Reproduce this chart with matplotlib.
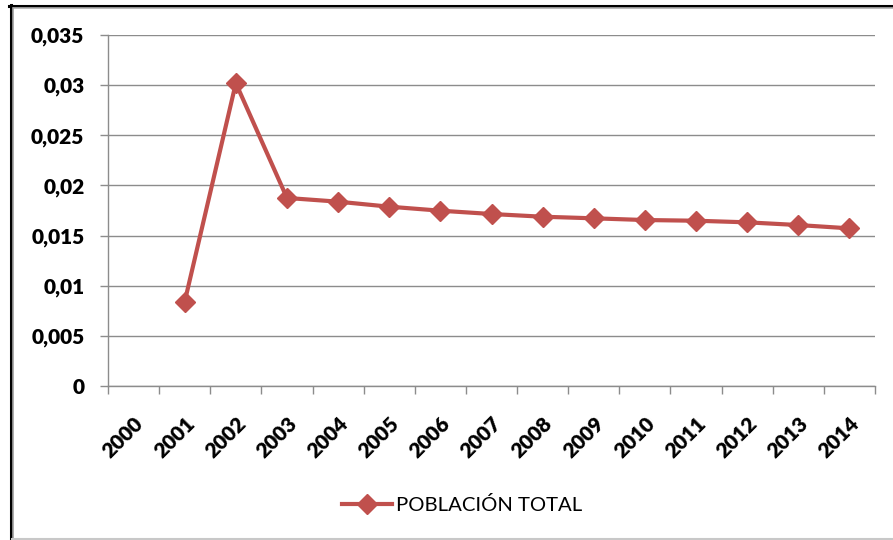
import numpy as np
import matplotlib
matplotlib.use("Agg")
import matplotlib.pyplot as plt
from matplotlib.lines import Line2D

years = ["2000", "2001", "2002", "2003", "2004", "2005", "2006", "2007",
         "2008", "2009", "2010", "2011", "2012", "2013", "2014"]
poblacion_total = [np.nan, 0.0084, 0.0302, 0.01875, 0.01838, 0.01788, 0.01748,
                   0.01715, 0.01688, 0.01672, 0.01655, 0.01648, 0.01632,
                   0.01605, 0.01572]
y_ticks = [0, 0.005, 0.01, 0.015, 0.02, 0.025, 0.03, 0.035]
y_labels = ["0", "0,005", "0,01", "0,015", "0,02", "0,025", "0,03", "0,035"]
series_name = "POBLACIÓN TOTAL"

W, H = 893, 540
red = "#C0504D"
grid = "#8C8C8C"

plt.rcParams["font.family"] = ["Lato", "DejaVu Sans"]

fig = plt.figure(figsize=(W / 100, H / 100), dpi=100)
fig.patch.set_facecolor("white")
ax = fig.add_axes([108 / W, 1 - 386 / H, (875 - 108) / W, (386 - 35) / H])

x = np.arange(len(years))
line, = ax.plot(x, poblacion_total, color=red, lw=3, marker="D", ms=10,
                mec=red, mfc=red, label=series_name, zorder=3)

ax.set_xlim(-0.5, len(years) - 0.5)
ax.set_ylim(0, 0.035)
ax.set_yticks(y_ticks)
ax.set_yticklabels(y_labels, fontsize=15, fontweight="heavy")
ax.set_xticks(x)
ax.set_xticklabels(years, fontsize=15, fontweight="heavy", rotation=45,
                   ha="right", va="top", rotation_mode="anchor")
ax.set_xticks(np.arange(-0.5, len(years)), minor=True)
ax.tick_params(axis="x", which="major", length=0, pad=20)
ax.tick_params(axis="x", which="minor", length=6, width=1, color=grid)
ax.tick_params(axis="y", length=6, width=1, color=grid, pad=11)

ax.yaxis.grid(True, color=grid, lw=1)
ax.set_axisbelow(True)
for side in ("top", "right"):
    ax.spines[side].set_visible(False)
for side in ("left", "bottom"):
    ax.spines[side].set_color(grid)
    ax.spines[side].set_linewidth(1)

fig.legend(handles=[line], loc="center", bbox_to_anchor=(462 / W, 1 - 505 / H),
           frameon=False, handlelength=2.5, handletextpad=0.2,
           prop={"family": ["Lato", "DejaVu Sans"], "size": 14.6})

# chart frame: dark edge top/left, light edge bottom
def frame_line(x0, y0, x1, y1, color, lw):
    fig.add_artist(Line2D([x0 / W, x1 / W], [1 - y0 / H, 1 - y1 / H],
                          transform=fig.transFigure, color=color, lw=lw))

frame_line(9, 6, W, 6, "black", 2.2)
frame_line(12, 8.2, W, 8.2, "#B0B0B0", 1.2)
frame_line(10.5, 5, 10.5, H, "black", 2.2)
frame_line(13, 8, 13, H, "#A0A0A0", 1.2)
frame_line(12, 539, W, 539, "#C8C8C8", 1.5)

fig.savefig("out.png", dpi=100)
